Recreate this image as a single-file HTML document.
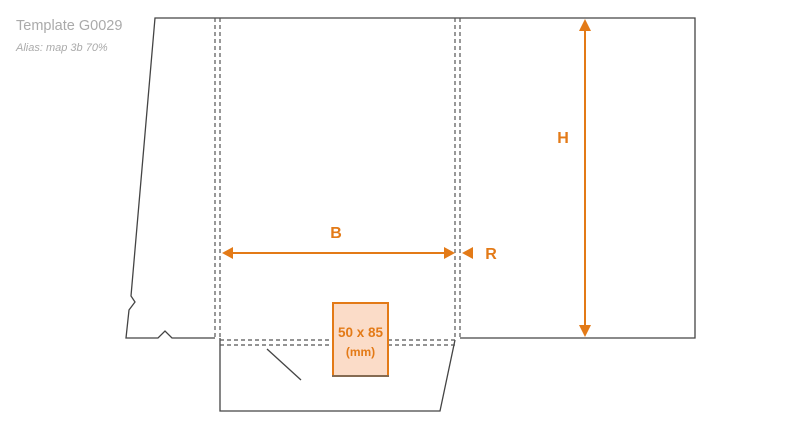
<!DOCTYPE html>
<html><head><meta charset="utf-8"><style>
html,body{margin:0;padding:0;background:#fff;width:800px;height:431px;overflow:hidden}
svg{display:block}
</style></head><body>
<svg width="800" height="431" viewBox="0 0 800 431" xmlns="http://www.w3.org/2000/svg">
<text x="16" y="30" font-family="Liberation Sans, sans-serif" font-size="14.5" fill="#aaa">Template G0029</text>
<text x="16" y="51" font-family="Liberation Sans, sans-serif" font-size="11" font-style="italic" fill="#aaa">Alias: map 3b 70%</text>
<g fill="none" stroke="#444" stroke-width="1.3">
<polyline points="215,338 172,338 165,331 158,338 126,338 129,310 135,302 131,296 155,18 695,18 695,338 460,338"/>
<polyline points="220,338 220,411 440,411 455,340"/>
<line x1="267" y1="349" x2="301" y2="380"/>
</g>
<g fill="none" stroke="#555" stroke-width="1.2" stroke-dasharray="4,3">
<line x1="215" y1="18" x2="215" y2="338"/>
<line x1="220" y1="18" x2="220" y2="338"/>
<line x1="455" y1="18" x2="455" y2="338"/>
<line x1="460" y1="18" x2="460" y2="338"/>
<line x1="220" y1="340" x2="455" y2="340"/>
<line x1="220" y1="345" x2="455" y2="345"/>
</g>
<rect x="333" y="303" width="55" height="73" fill="#fbdcc8" stroke="#e37a17" stroke-width="2"/>
<line x1="332" y1="376" x2="389" y2="376" stroke="#666" stroke-width="1.5"/>
<text x="360.5" y="337" text-anchor="middle" font-family="Liberation Sans, sans-serif" font-weight="bold" font-size="13.5" fill="#e37a17">50 x 85</text>
<text x="360.5" y="356" text-anchor="middle" font-family="Liberation Sans, sans-serif" font-weight="bold" font-size="12" fill="#e37a17">(mm)</text>
<g stroke="#e37a17" stroke-width="2" fill="#e37a17">
<line x1="230" y1="253" x2="446" y2="253"/>
<polygon points="222,253 233,247 233,259" stroke="none"/>
<polygon points="455,253 444,247 444,259" stroke="none"/>
<polygon points="462,253 473,247 473,259" stroke="none"/>
<line x1="585" y1="28" x2="585" y2="328"/>
<polygon points="585,19 579,31 591,31" stroke="none"/>
<polygon points="585,337 579,325 591,325" stroke="none"/>
</g>
<g font-family="Liberation Sans, sans-serif" font-weight="bold" font-size="16" fill="#e37a17">
<text x="336" y="238" text-anchor="middle">B</text>
<text x="491" y="259" text-anchor="middle">R</text>
<text x="563" y="143" text-anchor="middle">H</text>
</g>
</svg>
</body></html>
